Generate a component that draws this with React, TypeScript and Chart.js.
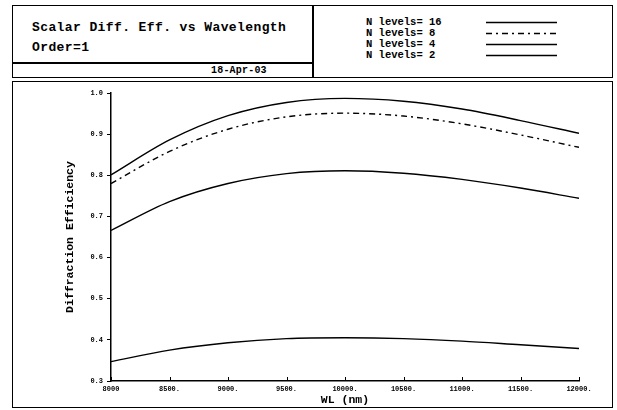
import React, { useEffect, useRef } from 'react';
import { Chart, registerables } from 'chart.js';

Chart.register(...registerables);

const wavelengths = [8000, 8500, 9000, 9500, 10000, 10500, 11000, 11500, 12000];
const levels16 = [0.801, 0.886, 0.945, 0.977, 0.987, 0.980, 0.961, 0.933, 0.902];
const levels8 = [0.780, 0.858, 0.912, 0.942, 0.951, 0.944, 0.925, 0.898, 0.868];
const levels4 = [0.666, 0.736, 0.780, 0.804, 0.811, 0.805, 0.790, 0.769, 0.744];
const levels2 = [0.347, 0.375, 0.393, 0.403, 0.405, 0.403, 0.397, 0.388, 0.379];
const xTickValues = [8000, 8500, 9000, 9500, 10000, 10500, 11000, 11500, 12000];
const yTickValues = [0.3, 0.4, 0.5, 0.6, 0.7, 0.8, 0.9, 1.0];

const titleText = 'Scalar Diff. Eff. vs Wavelength';
const orderText = 'Order=1';
const dateText = '18-Apr-03';
const legendLabels = ['N levels= 16', 'N levels= 8', 'N levels= 4', 'N levels= 2'];
const legendDashes = ['', '6 4 2 4', '', ''];

const FONT = '"Liberation Mono", "DejaVu Sans Mono", monospace';

const innerTicks = {
  id: 'innerTicks',
  afterDraw(chart: any) {
    const { ctx, chartArea } = chart;
    const x = chart.scales.x;
    ctx.save();
    ctx.strokeStyle = '#000';
    ctx.lineWidth = 1;
    xTickValues.forEach((v) => {
      const px = Math.round(x.getPixelForValue(v)) + 0.5;
      ctx.beginPath();
      ctx.moveTo(px, chartArea.bottom);
      ctx.lineTo(px, chartArea.bottom - 4);
      ctx.stroke();
    });
    ctx.restore();
  },
};

export default function App() {
  const ref = useRef<HTMLCanvasElement>(null);

  useEffect(() => {
    const mk = (label: string, data: number[], dash: number[]) => ({
      label,
      data: wavelengths.map((w, i) => ({ x: w, y: data[i] })),
      borderColor: '#000',
      backgroundColor: '#000',
      borderWidth: 1.4,
      borderDash: dash,
      pointRadius: 0,
      cubicInterpolationMode: 'monotone' as const,
      fill: false,
    });
    const chart = new Chart(ref.current!, {
      type: 'line',
      data: {
        datasets: [
          mk(legendLabels[0], levels16, []),
          mk(legendLabels[1], levels8, [6, 4, 2, 4]),
          mk(legendLabels[2], levels4, []),
          mk(legendLabels[3], levels2, []),
        ],
      },
      options: {
        responsive: false,
        animation: false,
        devicePixelRatio: 1,
        layout: { padding: { left: 0, right: 33, top: 12, bottom: 0 } },
        plugins: { legend: { display: false }, tooltip: { enabled: false } },
        scales: {
          x: {
            type: 'linear',
            min: 8000,
            max: 12000,
            afterFit: (s: any) => { s.height = 26; },
            afterBuildTicks: (s: any) => { s.ticks = xTickValues.map((v) => ({ value: v })); },
            ticks: {
              color: '#000',
              padding: 4,
              maxRotation: 0,
              autoSkip: false,
              font: { family: FONT, size: 7, weight: 'bold' },
              callback: (v: any) => (v === 8000 ? '8000' : v + '.'),
            },
            grid: { drawOnChartArea: false, drawTicks: false },
            border: { display: true, color: '#000', width: 1.5 },
            title: {
              display: true,
              text: 'WL (nm)',
              color: '#000',
              font: { family: FONT, size: 11.5, weight: 'bold' },
              padding: { top: 0, bottom: 0 },
            },
          },
          y: {
            type: 'linear',
            min: 0.3,
            max: 1.0,
            afterFit: (s: any) => { s.width = 99; },
            afterBuildTicks: (s: any) => { s.ticks = yTickValues.map((v) => ({ value: v })); },
            ticks: {
              color: '#000',
              padding: 4,
              autoSkip: false,
              font: { family: FONT, size: 7, weight: 'bold' },
              callback: (v: any) => Number(v).toFixed(1),
            },
            grid: { drawOnChartArea: false, drawTicks: true, tickLength: 4, color: '#000' },
            border: { display: true, color: '#000', width: 1.5 },
            title: {
              display: true,
              text: 'Diffraction Efficiency',
              color: '#000',
              font: { family: FONT, size: 11.5, weight: 'bold' },
              padding: { top: 51, bottom: 0 },
            },
          },
        },
      },
      plugins: [innerTicks],
    } as any);
    return () => chart.destroy();
  }, []);

  const abs = (s: React.CSSProperties): React.CSSProperties => ({ position: 'absolute', ...s });
  const rowCenters = [22, 33, 44, 55];

  return (
    <div
      style={{
        position: 'fixed',
        left: 0,
        top: 0,
        width: 617,
        height: 410,
        background: '#fff',
        color: '#000',
        fontFamily: FONT,
        fontWeight: 'bold',
        overflow: 'hidden',
      }}
    >
      <div style={abs({ left: 12, top: 5, width: 601, height: 73, border: '1.5px solid #000', boxSizing: 'border-box' })} />
      <div style={abs({ left: 312, top: 5, width: 1.5, height: 73, background: '#000' })} />
      <div style={abs({ left: 12, top: 62, width: 301, height: 1.5, background: '#000' })} />
      <div style={abs({ left: 32, top: 20, fontSize: 13, lineHeight: '16px', letterSpacing: '0.4px', whiteSpace: 'pre' })}>{titleText}</div>
      <div style={abs({ left: 32, top: 40, fontSize: 13, lineHeight: '16px', letterSpacing: '0.4px', whiteSpace: 'pre' })}>{orderText}</div>
      <div style={abs({ left: 211, top: 64, fontSize: 10, lineHeight: '14px', letterSpacing: '0.2px', whiteSpace: 'pre' })}>{dateText}</div>
      {legendLabels.map((l, i) => (
        <div key={l} style={abs({ left: 366, top: rowCenters[i] - 6, fontSize: 10.5, lineHeight: '12px', whiteSpace: 'pre' })}>{l}</div>
      ))}
      <svg style={abs({ left: 480, top: 0 })} width={90} height={70}>
        {legendDashes.map((d, i) => (
          <line
            key={i}
            x1={6}
            x2={77}
            y1={rowCenters[i] + 0.5}
            y2={rowCenters[i] + 0.5}
            stroke="#000"
            strokeWidth={1.3}
            strokeDasharray={d || undefined}
          />
        ))}
      </svg>
      <div style={abs({ left: 12, top: 81, width: 601, height: 327, border: '1.5px solid #000', boxSizing: 'border-box' })} />
      <canvas ref={ref} width={600} height={326} style={abs({ left: 12, top: 81, width: 600, height: 326 })} />
    </div>
  );
}
